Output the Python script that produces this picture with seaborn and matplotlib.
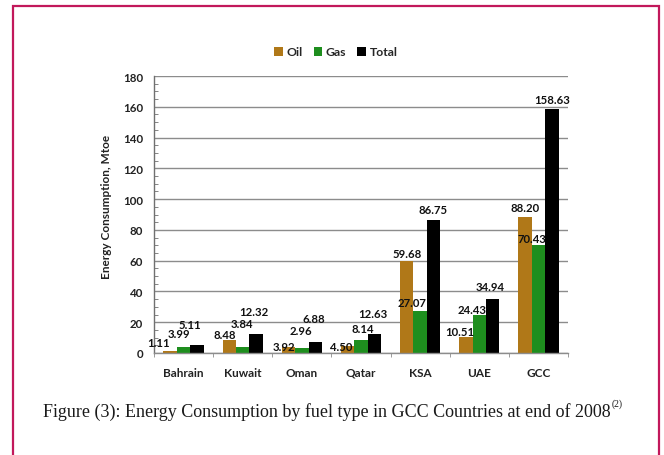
import matplotlib
matplotlib.use("Agg")
import matplotlib.pyplot as plt
from matplotlib.patches import Rectangle, Patch
from matplotlib.ticker import MultipleLocator, FixedLocator
import seaborn as sns
import pandas as pd

# Energy consumption (Mtoe) by fuel type, end of 2008
countries = ["Bahrain", "Kuwait", "Oman", "Qatar", "KSA", "UAE", "GCC"]
oil = [1.11, 8.48, 3.92, 4.50, 59.68, 10.51, 88.20]
gas = [3.99, 3.84, 2.96, 8.14, 27.07, 24.43, 70.43]
total = [5.11, 12.32, 6.88, 12.63, 86.75, 34.94, 158.63]
fuels = ["Oil", "Gas", "Total"]
colors = {"Oil": "#B07818", "Gas": "#1E8E1E", "Total": "#000000"}

# label nudges (pixels: dx, dy above bar top) so crowded labels stay readable
label_nudge = {
    "Oil":   [(-12, 9), (-5, 5), (-4, 0), (-6, 0), (0, 8), (-6, 5), (0, 10)],
    "Gas":   [(-5, 13), (-1, 24), (-1, 18), (2, 12), (-8, 9), (-7, 6), (-6, 6)],
    "Total": [(-7, 21), (-2, 23), (-1, 24), (-2, 20), (0, 10), (-3, 13), (0, 9)],
}

df = pd.DataFrame({
    "country": countries * 3,
    "fuel": ["Oil"] * len(countries) + ["Gas"] * len(countries) + ["Total"] * len(countries),
    "value": oil + gas + total,
})

sns.set_style("white")
plt.rcParams["font.family"] = ["Lato", "DejaVu Sans"]
plt.rcParams["font.weight"] = "bold"

W, H = 664, 456
fig = plt.figure(figsize=(W / 100, H / 100), dpi=100)
fig.patch.set_facecolor("white")
ax = fig.add_axes([154 / W, 1 - 354 / H, (568 - 154) / W, (354 - 77) / H])

sns.barplot(data=df, x="country", y="value", hue="fuel", hue_order=fuels,
            palette=colors, width=0.68, saturation=1, dodge=True,
            linewidth=0, ax=ax, legend=False)

ax.set_ylim(0, 180)
ax.set_xlim(-0.5, len(countries) - 0.5)
ax.yaxis.set_major_locator(MultipleLocator(20))
ax.yaxis.set_minor_locator(MultipleLocator(5))
ax.xaxis.set_minor_locator(FixedLocator([i + 0.5 for i in range(-1, len(countries))]))
ax.grid(axis="y", which="major", color="#8C8C8C", linewidth=1.0)
ax.set_axisbelow(True)

for side in ["top", "right"]:
    ax.spines[side].set_visible(False)
ax.spines["left"].set_color("#707070")
ax.spines["bottom"].set_color("#8C8C8C")
ax.spines["left"].set_linewidth(1.0)
ax.spines["bottom"].set_linewidth(1.0)

ax.tick_params(axis="y", which="major", length=0, pad=8, labelsize=8.3, colors="#222222")
ax.tick_params(axis="y", which="minor", length=3, direction="in", color="#707070", left=True)
ax.tick_params(axis="x", which="major", length=0, pad=10, labelsize=8.5, colors="#222222")
ax.tick_params(axis="x", which="minor", length=3, direction="out", color="#8C8C8C", bottom=True)
for lab in ax.get_xticklabels() + ax.get_yticklabels():
    lab.set_fontweight("bold")

ax.set_xlabel("")
ax.set_ylabel("Energy Consumption, Mtoe", fontsize=8.5, fontweight="bold", color="#222222")
ax.yaxis.set_label_coords(-(154 - 112) / 414, 0.53)

# value labels above every bar
for container, fuel in zip(ax.containers, fuels):
    for bar, (dx, dy) in zip(container, label_nudge[fuel]):
        h = bar.get_height()
        xc = bar.get_x() + bar.get_width() / 2
        ax.annotate(f"{h:.2f}", xy=(xc, h), xytext=(dx, dy), textcoords="offset pixels",
                    ha="center", va="center", fontsize=8.2, fontweight="bold",
                    color="#111111", annotation_clip=False)

handles = [Patch(facecolor=colors[f], edgecolor="none") for f in fuels]
fig.legend(handles, fuels, loc="center", bbox_to_anchor=(336 / W, 1 - 53 / H),
           ncol=3, frameon=False, handlelength=0.7, handleheight=0.7,
           handletextpad=0.3, columnspacing=0.9, prop={"weight": "bold", "size": 8.8})

# caption with superscript reference
cap = fig.text(43 / W, 1 - 412 / H,
               "Figure (3): Energy Consumption by fuel type in GCC Countries at end of 2008",
               ha="left", va="center", fontsize=13, family="Liberation Serif",
               fontweight="normal", color="#1a1a1a")
fig.canvas.draw()
bb = cap.get_window_extent(fig.canvas.get_renderer())
fig.text((bb.x1 + 1) / W, (bb.y1 - 1) / H, "(2)", ha="left", va="center",
         fontsize=7, family="Liberation Serif", fontweight="normal", color="#1a1a1a")

# page frame
fig.add_artist(Rectangle((13 / W, -0.2), (659 - 13) / W, 1 - 7 / H + 0.2,
                         transform=fig.transFigure, fill=False,
                         edgecolor="#C2185B", linewidth=1.6))

fig.savefig("out.png", dpi=100, facecolor="white")
